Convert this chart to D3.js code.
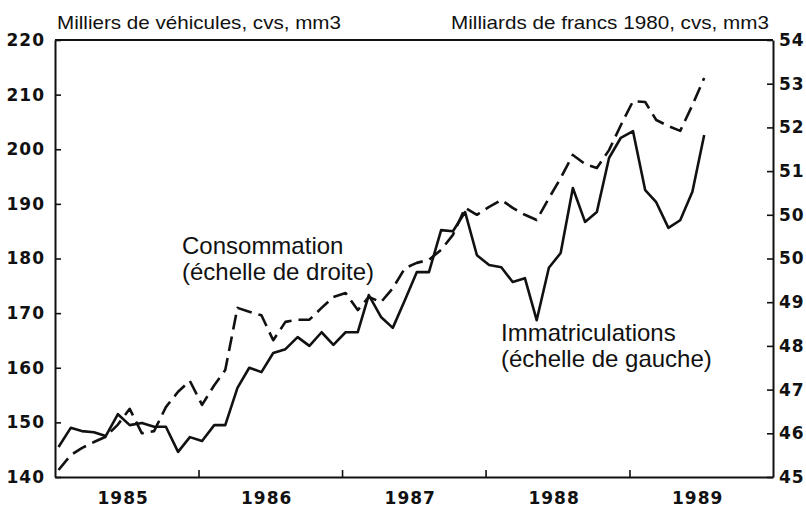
<!DOCTYPE html>
<html><head><meta charset="utf-8">
<script src="https://cdn.jsdelivr.net/npm/d3@7"></script>
<style>body{margin:0;background:#fff}svg{display:block}</style>
</head><body><svg id="c" width="806" height="507"></svg>
<script>
// ---- data (monthly, Jan 1985 .. Jul 1989) ----
const monthCount = 55;
const immatriculations = [
  145.5, 149.0, 148.4, 148.2, 147.5, 151.5, 149.5, 149.9, 149.2, 149.2, 144.6, 147.3,
  146.6, 149.5, 149.5, 156.3, 160.0, 159.2, 162.7, 163.4, 165.6, 164.0, 166.5, 164.2,
  166.5, 166.5, 173.3, 169.3, 167.3, 172.4, 177.5, 177.5, 185.2, 185.0, 188.5, 180.6,
  178.8, 178.4, 175.7, 176.4, 168.7, 178.3, 181.0, 192.9, 186.7, 188.5, 198.4, 202.1,
  203.3, 192.5, 190.3, 185.6, 187.0, 192.2, 202.6
];
const consommation = [
  45.16, 45.50, 45.66, 45.80, 45.92, 46.20, 46.56, 46.00, 46.05, 46.60, 46.95, 47.20,
  46.65, 47.10, 47.45, 48.87, 48.78, 48.70, 48.13, 48.55, 48.60, 48.60, 48.87, 49.12,
  49.21, 48.82, 49.12, 49.00, 49.32, 49.78, 49.90, 49.97, 50.20, 50.54, 51.16, 51.00,
  51.18, 51.34, 51.16, 51.00, 50.88, 51.38, 51.84, 52.37, 52.16, 52.07, 52.48, 53.05,
  53.60, 53.58, 53.17, 53.03, 52.92, 53.51, 54.13
];
const leftTicks = [140, 150, 160, 170, 180, 190, 200, 210, 220];
const rightTicks = [45, 46, 47, 48, 49, 50, 51, 52, 53, 54, 55];
const rightTickLabels = ["45", "46", "47", "48", "49", "50", "50", "51", "52", "53", "54"];
const yearTicks = [1986, 1987, 1988, 1989];
const yearLabels = [1985, 1986, 1987, 1988, 1989];
const leftTitle = "Milliers de véhicules, cvs, mm3";
const rightTitle = "Milliards de francs 1980, cvs, mm3";
const consLabel = ["Consommation", "(échelle de droite)"];
const immLabel = ["Immatriculations", "(échelle de gauche)"];

const months = d3.range(monthCount).map(i => new Date(1985, i, 10));

// ---- layout ----
const L = 55, R = 773, T = 40, B = 477;
const svg = d3.select("#c");
const x = d3.scaleTime().domain([new Date(1985, 0, 1), new Date(1990, 0, 1)]).range([L, R]);
const yL = d3.scaleLinear().domain([140, 220]).range([B, T]);
const yR = d3.scaleLinear().domain([45, 55]).range([B, T]);

const tickFont = "'DejaVu Sans', sans-serif";
const textFont = "'Liberation Sans', Arial, sans-serif";
const ink = "#111";

// top frame line
svg.append("line").attr("x1", L).attr("x2", R).attr("y1", yL(220)).attr("y2", yL(220))
  .attr("stroke", ink).attr("stroke-width", 2);

// left axis
const gL = svg.append("g").attr("transform", `translate(${L},0)`)
  .call(d3.axisLeft(yL).tickValues(leftTicks).tickSize(-6).tickSizeOuter(0).tickPadding(10).tickFormat(d3.format("d")));
// right axis
const gR = svg.append("g").attr("transform", `translate(${R},0)`)
  .call(d3.axisRight(yR).tickValues(rightTicks).tickSize(-6).tickSizeOuter(0).tickPadding(6)
    .tickFormat((d, i) => rightTickLabels[i]));
// bottom axis
const gB = svg.append("g").attr("transform", `translate(0,${B})`)
  .call(d3.axisBottom(x).tickValues(yearTicks.map(y => new Date(y, 0, 1))).tickSize(-7).tickSizeOuter(0).tickFormat(""));

[gL, gR, gB].forEach(g => {
  g.select(".domain").attr("stroke", ink).attr("stroke-width", 2);
  g.selectAll(".tick line").attr("stroke", ink).attr("stroke-width", 1.6);
  g.selectAll(".tick text").attr("fill", ink).style("font-family", tickFont)
    .style("font-size", "17px").style("font-weight", "bold").style("letter-spacing", "1px");
});

// year labels
svg.append("g").selectAll("text").data(yearLabels).join("text")
  .attr("x", d => x(new Date(d, 6, 1)) - 3).attr("y", 504)
  .attr("text-anchor", "middle").attr("fill", ink)
  .style("font-family", tickFont).style("font-size", "17px").style("font-weight", "bold")
  .style("letter-spacing", "1px")
  .text(d => d);

// titles
svg.append("text").attr("x", 57).attr("y", 29).attr("fill", ink)
  .style("font-family", textFont).style("font-size", "19px")
  .attr("textLength", 284).attr("lengthAdjust", "spacingAndGlyphs").text(leftTitle);
svg.append("text").attr("x", 451).attr("y", 29).attr("fill", ink)
  .style("font-family", textFont).style("font-size", "19px")
  .attr("textLength", 318).attr("lengthAdjust", "spacingAndGlyphs").text(rightTitle);

// lines
const lineL = d3.line().x((d, i) => x(months[i])).y(d => yL(d));
const lineR = d3.line().x((d, i) => x(months[i])).y(d => yR(d));
svg.append("path").datum(consommation).attr("d", lineR).attr("fill", "none")
  .attr("stroke", ink).attr("stroke-width", 2.6).attr("stroke-dasharray", "15,7")
  .attr("stroke-linejoin", "round");
svg.append("path").datum(immatriculations).attr("d", lineL).attr("fill", "none")
  .attr("stroke", ink).attr("stroke-width", 2.6).attr("stroke-linejoin", "round");

// annotations
function label(lines, x0, y0) {
  svg.append("g").selectAll("text").data(lines).join("text")
    .attr("x", x0).attr("y", (d, i) => y0 + i * 26).attr("fill", ink)
    .style("font-family", textFont).style("font-size", "24px").text(d => d);
}
label(consLabel, 182, 254);
label(immLabel, 501, 341);
</script>
</body></html>
